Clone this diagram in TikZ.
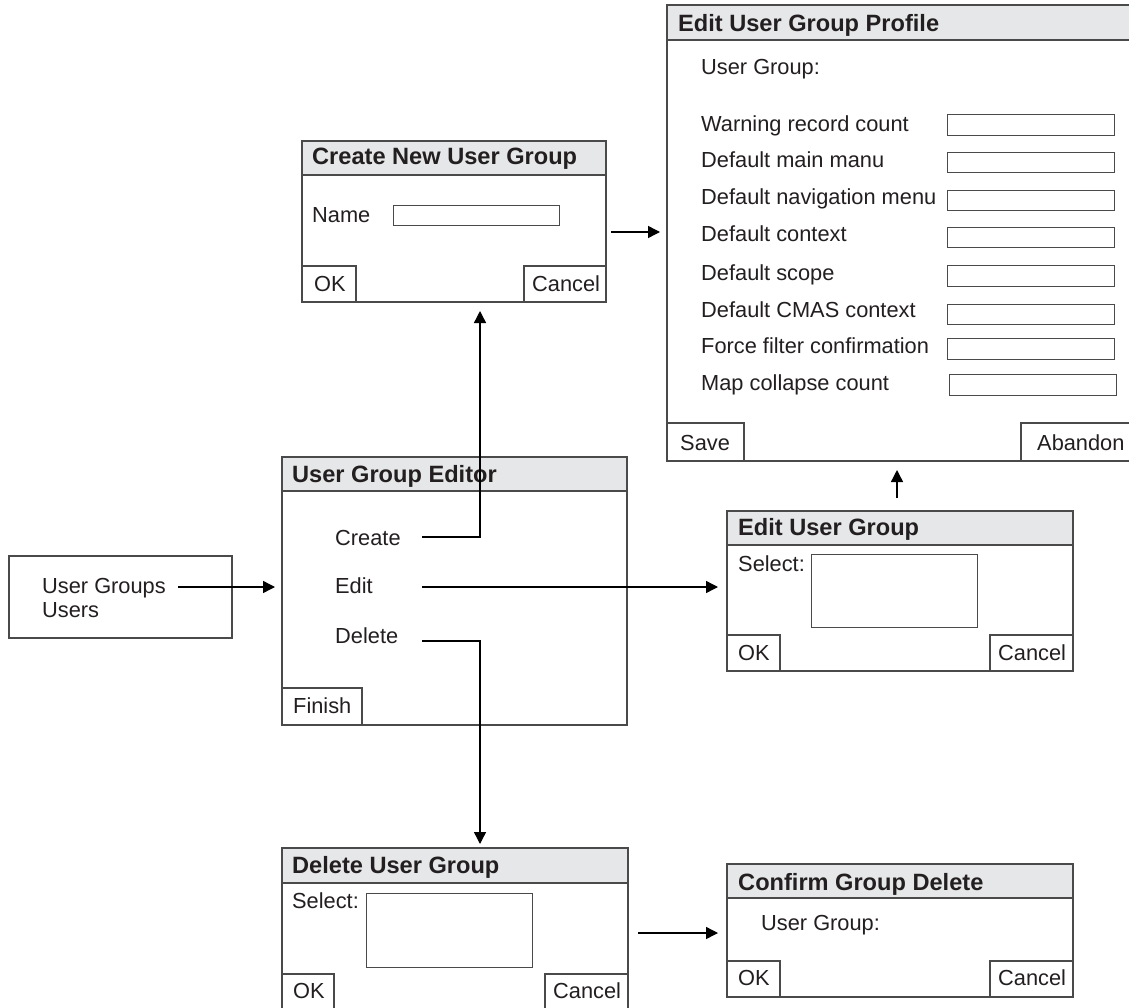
\documentclass[tikz,border=0pt]{standalone}
\usepackage{fontspec}
\setmainfont{Liberation Sans}
\usetikzlibrary{arrows.meta,fit}
\definecolor{bordergray}{HTML}{4A4A4A}
\definecolor{titlefill}{HTML}{E6E7E8}
\definecolor{txt}{HTML}{231F20}
\begin{document}
\begin{tikzpicture}[x=1pt,y=-1pt,
  win/.style={draw=bordergray, line width=1.2pt, fill=white, inner sep=0pt, outer sep=0pt},
  titlebar/.style={draw=bordergray, line width=1.2pt, fill=titlefill, inner sep=0pt, outer sep=0pt},
  btn/.style={draw=bordergray, line width=1.1pt, fill=white, inner sep=0pt, outer sep=0pt},
  field/.style={draw=bordergray, line width=1.0pt, fill=white, inner sep=0pt, outer sep=0pt},
  lbl/.style={anchor=base west, inner sep=0pt, text=txt, font=\fontsize{21.8}{26}\selectfont},
  ttl/.style={anchor=base west, inner sep=0pt, text=txt, font=\bfseries\fontsize{23.6}{28}\selectfont},
  conn/.style={draw=black, line width=1.4pt},
  arr/.style={conn, -{Triangle[length=12pt,width=12pt]}}]
\clip (0,0) rectangle (1129,1008);
\fill[white] (0,0) rectangle (1129,1008);

% ---------- Create New User Group ----------
\node[win, fit={(302,141) (606,302)}] (cnug) {};
\node[titlebar, fit={(302,141) (606,175)}] (cnugT) {};
\node[ttl] (cnugTt) at (312,165) {Create New User Group};
\node[lbl] (cnugName) at (312,223) {Name};
\node[field, fit={(393,206) (559,226)}] (cnugField) {};
\node[btn, fit={(302,266) (356,302)}] (cnugOK) {};
\node[lbl] (cnugOKt) at (314,291) {OK};
\node[btn, fit={(524,266) (606,302)}] (cnugCancel) {};
\node[lbl] (cnugCancelt) at (532,291) {Cancel};

% ---------- Edit User Group Profile ----------
\node[win, fit={(667,5) (1135,461)}] (eugp) {};
\node[titlebar, fit={(667,5) (1135,40)}] (eugpT) {};
\node[ttl] (eugpTt) at (678,32) {Edit User Group Profile};
\node[lbl] (eugpUG) at (701,75) {User Group:};
\node[lbl] (r1) at (701,132) {Warning record count};
\node[lbl] (r2) at (701,168) {Default main manu};
\node[lbl] (r3) at (701,205) {Default navigation menu};
\node[lbl] (r4) at (701,242) {Default context};
\node[lbl] (r5) at (701,280) {Default scope};
\node[lbl] (r6) at (701,317) {Default CMAS context};
\node[lbl] (r7) at (701,353) {Force filter confirmation};
\node[lbl] (r8) at (701,390) {Map collapse count};
\node[field, fit={(947,115) (1114,136)}] (f1) {};
\node[field, fit={(947,153) (1114,173)}] (f2) {};
\node[field, fit={(947,191) (1114,211)}] (f3) {};
\node[field, fit={(947,228) (1114,248)}] (f4) {};
\node[field, fit={(947,266) (1114,286)}] (f5) {};
\node[field, fit={(947,304) (1114,324)}] (f6) {};
\node[field, fit={(947,338) (1114,359)}] (f7) {};
\node[field, fit={(949,374) (1116,395)}] (f8) {};
\node[btn, fit={(667,423) (744,461)}] (eugpSave) {};
\node[lbl] (eugpSavet) at (680,450) {Save};
\node[btn, fit={(1021,423) (1135,461)}] (eugpAb) {};
\node[lbl] (eugpAbt) at (1037,450) {Abandon};

% ---------- User Groups box ----------
\node[win, fit={(9,556) (232,638)}] (ugb) {};
\node[lbl] (ugbA) at (42,593) {User Groups};
\node[lbl] (ugbB) at (42,617) {Users};

% ---------- User Group Editor ----------
\node[win, fit={(282,457) (627,725)}] (uge) {};
\node[titlebar, fit={(282,457) (627,491)}] (ugeT) {};
\node[ttl] (ugeTt) at (292,482) {User Group Editor};
\node[lbl] (ugeCreate) at (335,545) {Create};
\node[lbl] (ugeEdit) at (335,593) {Edit};
\node[lbl] (ugeDelete) at (335,643) {Delete};
\node[btn, fit={(282,688) (362,725)}] (ugeFinish) {};
\node[lbl] (ugeFinisht) at (293,713) {Finish};

% ---------- Edit User Group ----------
\node[win, fit={(727,511) (1073,671)}] (eug) {};
\node[titlebar, fit={(727,511) (1073,545)}] (eugT) {};
\node[ttl] (eugTt) at (738,535) {Edit User Group};
\node[lbl] (eugSel) at (738,571) {Select:};
\node[field, fit={(811,554) (977,627)}] (eugList) {};
\node[btn, fit={(727,635) (780,671)}] (eugOK) {};
\node[lbl] (eugOKt) at (738,660) {OK};
\node[btn, fit={(990,635) (1073,671)}] (eugCancel) {};
\node[lbl] (eugCancelt) at (998,660) {Cancel};

% ---------- Delete User Group ----------
\node[win, fit={(282,848) (628,1012)}] (dug) {};
\node[titlebar, fit={(282,848) (628,883)}] (dugT) {};
\node[ttl] (dugTt) at (292,873) {Delete User Group};
\node[lbl] (dugSel) at (292,908) {Select:};
\node[field, fit={(366,893) (532,967)}] (dugList) {};
\node[btn, fit={(282,974) (334,1012)}] (dugOK) {};
\node[lbl] (dugOKt) at (293,998) {OK};
\node[btn, fit={(545,974) (628,1012)}] (dugCancel) {};
\node[lbl] (dugCancelt) at (553,998) {Cancel};

% ---------- Confirm Group Delete ----------
\node[win, fit={(727,864) (1073,997)}] (cgd) {};
\node[titlebar, fit={(727,864) (1073,898)}] (cgdT) {};
\node[ttl] (cgdTt) at (738,890) {Confirm Group Delete};
\node[lbl] (cgdUG) at (761,930) {User Group:};
\node[btn, fit={(727,961) (780,997)}] (cgdOK) {};
\node[lbl] (cgdOKt) at (738,985) {OK};
\node[btn, fit={(990,961) (1073,997)}] (cgdCancel) {};
\node[lbl] (cgdCancelt) at (998,985) {Cancel};

% ---------- connector end points ----------
\coordinate (ugbOut) at (178,587);
\coordinate (ugeIn) at (275,587);
\coordinate (crOut) at (422,537);
\coordinate (crBend) at (480,537);
\coordinate (cnugIn) at (480,311);
\coordinate (edOut) at (422,587);
\coordinate (eugIn) at (718,587);
\coordinate (delOut) at (422,641);
\coordinate (delBend) at (480,641);
\coordinate (dugIn) at (480,844);
\coordinate (cnugOut) at (611,232);
\coordinate (eugpIn) at (660,232);
\coordinate (eugOut) at (897,498);
\coordinate (eugpIn2) at (897,470);
\coordinate (dugOut) at (638,933);
\coordinate (cgdIn) at (718,933);

% ---------- connectors ----------
\draw[arr] (ugbOut) -- (ugeIn);
\draw[arr] (crOut) -- (crBend) -- (cnugIn);
\draw[arr] (edOut) -- (eugIn);
\draw[arr] (delOut) -- (delBend) -- (dugIn);
\draw[arr] (cnugOut) -- (eugpIn);
\draw[arr] (eugOut) -- (eugpIn2);
\draw[arr] (dugOut) -- (cgdIn);
\end{tikzpicture}
\end{document}
